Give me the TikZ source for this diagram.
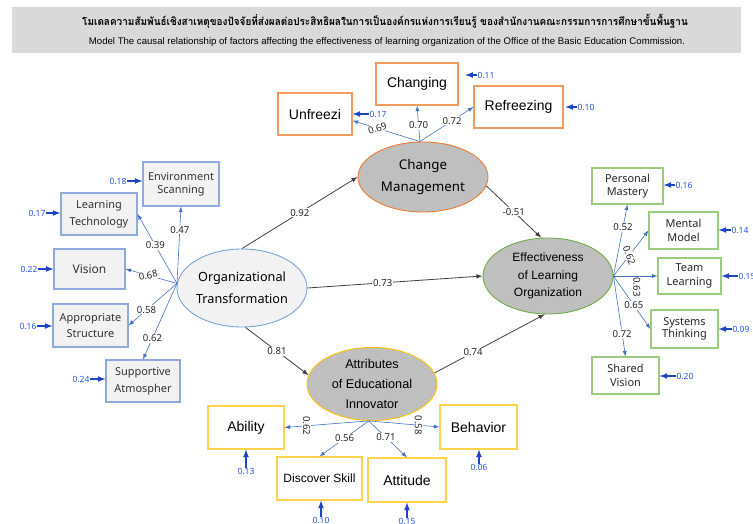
\documentclass[tikz,border=0pt]{standalone}
\usepackage{fontspec}
\setmainfont{Liberation Sans}
\newfontfamily\leela{Noto Sans}
\newfontfamily\thaifont[Script=Thai]{Loma}
\usepackage{tikz}
\usetikzlibrary{arrows,shapes.geometric,calc}
\newdimen\pxu \pxu=0.75pt
\newcommand{\fsz}[2]{\fontsize{#1}{#2}\selectfont}

\definecolor{titlegray}{HTML}{D9D9D9}
\definecolor{otblue}{HTML}{7EA3DA}
\definecolor{boxblue}{HTML}{8FAADC}
\definecolor{boxfill}{HTML}{F2F2F2}
\definecolor{fanblue}{HTML}{4472C4}
\definecolor{errblue}{HTML}{2455E0}
\definecolor{errarrow}{HTML}{1C44C4}
\definecolor{cmorange}{HTML}{ED7D31}
\definecolor{boxorange}{HTML}{F19B5F}
\definecolor{elogreen}{HTML}{70AD47}
\definecolor{boxgreen}{HTML}{9BCB7C}
\definecolor{aeigold}{HTML}{FFC000}
\definecolor{boxgold}{HTML}{FFD34D}
\definecolor{ellgray}{HTML}{BFBFBF}

\tikzset{
  sz/.style 2 args={minimum width=#1\pxu, minimum height=#2\pxu},
  latent/.style={ellipse, draw, line width=0.9\pxu, inner sep=0pt, align=center, text=black},
  obsbox/.style={rectangle, draw, line width=1.1\pxu, inner sep=0pt, align=center, text=black},
  leftbox/.style={obsbox, draw=boxblue, fill=boxfill, text=black!80, font=\leela\fsz{8.2}{12.5}},
  topbox/.style={obsbox, draw=boxorange, fill=white, font=\fsz{10.5}{12}},
  rightbox/.style={obsbox, draw=boxgreen, fill=white, text=black!85, font=\leela\fsz{8.2}{10.2}},
  botbox/.style={obsbox, draw=boxgold, fill=white, font=\fsz{10.5}{12}},
  coef/.style={fill=white, inner sep=1\pxu, text=black!85, font=\leela\fsz{7.2}{8}},
  errlab/.style={inner sep=0pt, text=errblue, font=\leela\fsz{6.4}{7}},
  fanline/.style={draw=fanblue, line width=0.6\pxu, -latex},
  struct/.style={draw=black!75, line width=0.8\pxu, -latex},
  errarr/.style={draw=errarrow, line width=1.3\pxu, -latex},
}

\begin{document}
\begin{tikzpicture}[x=1\pxu, y=-1\pxu]
\useasboundingbox (0,0) rectangle (753,524);

% title
\fill[titlegray] (12,7) rectangle (741,53);
\node[font=\thaifont\bfseries\fsz{8}{10}] (thtitle) at (385,21) {\scalebox{0.935}[1]{โมเดลความสัมพันธ์เชิงสาเหตุของปัจจัยที่ส่งผลต่อประสิทธิผลในการเป็นองค์กรแห่งการเรียนรู้ ของสำนักงานคณะกรรมการการศึกษาขั้นพื้นฐาน}};
\node[font=\fsz{7.2}{8}] (entitle) at (387,42) {Model The causal relationship of factors affecting the effectiveness of learning organization of the Office of the Basic Education Commission.};

% latent variables
\node[latent, draw=otblue, fill=boxfill, sz={130}{78}, font=\leela\fsz{9.5}{16.5}] (OT) at (242,288) {Organizational\\Transformation};
\node[latent, draw=cmorange, fill=ellgray, sz={130}{70}, font=\leela\fsz{10}{17}] (CM) at (423,177) {Change\\Management};
\node[latent, draw=elogreen, fill=ellgray, sz={130}{76}, font=\fsz{9}{13}] (ELO) at (548,276) {Effectiveness\\of Learning\\Organization};
\node[latent, draw=aeigold, fill=ellgray, sz={130}{73}, font=\fsz{9.5}{15}] (AEI) at (372,384) {Attributes\\of Educational\\Innovator};

% indicators
\node[leftbox, sz={76}{44}, font=\leela\fsz{8.2}{9.8}] (ES) at (181,184) {Environment\\Scanning};
\node[leftbox, sz={76}{42}] (LT) at (99,214) {Learning\\Technology};
\node[leftbox, sz={71}{40}, font=\leela\fsz{9}{11}] (VI) at (89.5,269) {Vision};
\node[leftbox, sz={75}{43}] (AS) at (90.5,325.5) {Appropriate\\Structure};
\node[leftbox, sz={74}{42}] (SA) at (143,381) {Supportive\\Atmospher};

\node[topbox, sz={74}{42}] (UF) at (315,114) {Unfreezi};
\node[topbox, sz={82}{42}] (CH) at (417,84) {Changing};
\node[topbox, sz={89}{42}] (RF) at (518.5,107) {Refreezing};

\node[rightbox, sz={71}{36}] (PM) at (627.5,186) {Personal\\Mastery};
\node[rightbox, sz={69}{37}] (MM) at (683.5,230.5) {Mental\\Model};
\node[rightbox, sz={63}{36}] (TL) at (689.5,276) {Team\\Learning};
\node[rightbox, sz={67}{38}, font=\leela\fsz{8.2}{9.4}] (ST) at (684.5,329) {Systems\\Thinking};
\node[rightbox, sz={67}{37}] (SV) at (625.5,375.5) {Shared\\Vision};

\node[botbox, sz={76}{43}] (AB) at (246,427.5) {Ability};
\node[botbox, sz={85}{43}, font=\fsz{9}{11}] (DS) at (319.5,478.5) {Discover Skill};
\node[botbox, sz={78}{44}] (AT) at (407,480) {Attitude};
\node[botbox, sz={77}{44}] (BE) at (478.5,427) {Behavior};

% structural paths
\draw[struct] (OT.north) -- node[coef]{0.92} (CM.west);
\draw[struct] (OT.east) -- node[coef,pos=.43]{0.73} (ELO.west);
\draw[struct] (OT.275) -- node[coef]{0.81} (AEI.172);
\draw[struct] (CM.-8) -- node[coef]{-0.51} (ELO.100);
\draw[struct] (AEI.10) -- node[coef,pos=.35]{0.74} (ELO.265);

% loadings
\draw[fanline] (OT.176) -- node[coef,pos=.7]{0.47} (ES.south);
\draw[fanline] (OT.176) -- node[coef,pos=.55]{0.39} (LT.east);
\draw[fanline] (OT.176) -- node[coef,pos=.56,rotate=12]{0.68} (VI.east);
\draw[fanline] (OT.176) -- node[coef,pos=.63]{0.58} (AS.east);
\draw[fanline] (OT.176) -- node[coef,pos=.72]{0.62} (SA.north);

\draw[fanline] (CM.95) -- node[coef,pos=.63,rotate=20]{0.69} (UF.-10);
\draw[fanline] (CM.95) -- node[coef,pos=.45]{0.70} (CH.south);
\draw[fanline] (CM.95) -- node[coef,pos=.6]{0.72} (RF.west);

\draw[fanline] (ELO.east) -- node[coef,pos=.68]{0.52} (PM.south);
\draw[fanline] (ELO.east) -- node[coef,pos=.45,rotate=-70]{0.62} (MM.west);
\draw[fanline] (ELO.east) -- (TL.west);
\node[coef,fill=none,rotate=-90] (c63) at ($(ELO.east)!.53!(TL.west)+(0,11)$) {0.63};
\draw[fanline] (ELO.east) -- node[coef,pos=.55]{0.65} (ST.west);
\draw[fanline] (ELO.east) -- node[coef,pos=.72]{0.72} (SV.north);

\draw[fanline] (AEI.265) -- node[coef,pos=.74,rotate=-90]{0.62} (AB.east);
\draw[fanline] (AEI.265) -- node[coef,pos=.49]{0.56} (DS.north);
\draw[fanline] (AEI.265) -- node[coef,pos=.45]{0.71} (AT.north);
\draw[fanline] (AEI.265) -- node[coef,pos=.7,rotate=-90]{0.58} (BE.west);

% error terms
\node[errlab] (eES) at (118,181) {0.18};
\node[errlab] (eLT) at (37,213) {0.17};
\node[errlab] (eVI) at (29,269) {0.22};
\node[errlab] (eAS) at (28,326) {0.16};
\node[errlab] (eSA) at (81,379) {0.24};
\draw[errarr] (eES.east) -- (eES.east -| ES.west);
\draw[errarr] (eLT.east) -- (eLT.east -| LT.west);
\draw[errarr] (eVI.east) -- (eVI.east -| VI.west);
\draw[errarr] (eAS.east) -- (eAS.east -| AS.west);
\draw[errarr] (eSA.east) -- (eSA.east -| SA.west);

\node[errlab] (eUF) at (378,114) {0.17};
\node[errlab] (eCH) at (486,75) {0.11};
\node[errlab] (eRF) at (586,107) {0.10};
\draw[errarr] (eUF.west) -- (eUF.west -| UF.east);
\draw[errarr] (eCH.west) -- ++(-12,0);
\draw[errarr] (eRF.west) -- ++(-12,0);

\node[errlab] (ePM) at (684,185) {0.16};
\node[errlab] (eMM) at (740,230) {0.14};
\node[errlab] (eTL) at (747,276) {0.15};
\node[errlab] (eST) at (741,329) {0.09};
\node[errlab] (eSV) at (685,376) {0.20};
\draw[errarr] (ePM.west) -- (ePM.west -| PM.east);
\draw[errarr] (eMM.west) -- (eMM.west -| MM.east);
\draw[errarr] (eTL.west) -- (eTL.west -| TL.east);
\draw[errarr] (eST.west) -- (eST.west -| ST.east);
\draw[errarr] (eSV.west) -- (eSV.west -| SV.east);

\node[errlab] (eAB) at (246,471) {0.13};
\node[errlab] (eDS) at (321,520) {0.10};
\node[errlab] (eAT) at (407,521) {0.15};
\node[errlab] (eBE) at (479,467) {0.06};
\draw[errarr] (eAB.north) -- (eAB.north |- AB.south);
\draw[errarr] (eDS.north) -- (eDS.north |- DS.south);
\draw[errarr] (eAT.north) -- (eAT.north |- AT.south);
\draw[errarr] (eBE.north) -- (eBE.north |- BE.south);
\end{tikzpicture}
\end{document}
